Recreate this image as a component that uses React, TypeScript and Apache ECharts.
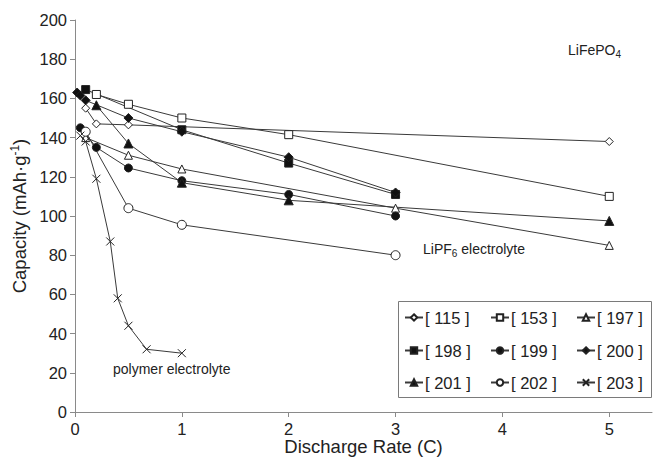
import React, { useEffect, useRef } from "react";
import * as echarts from "echarts";

// Discharge rate (C) vs capacity (mAh/g) for each reference
const s115 = [[0.1, 155], [0.2, 147], [0.5, 146.5], [5, 138]];
const s153 = [[0.2, 162], [0.5, 157], [1, 150], [2, 141.5], [5, 110]];
const s197 = [[0.1, 140], [0.5, 131], [1, 124], [3, 104], [5, 85]];
const s198 = [[0.1, 164.5], [1, 144], [2, 127], [3, 111]];
const s199 = [[0.05, 145], [0.2, 135], [0.5, 124.5], [1, 118], [2, 111], [3, 100]];
const s200 = [[0.02, 163], [0.05, 161.5], [0.1, 159], [0.5, 150], [1, 143], [2, 130], [3, 112]];
const s201 = [[0.2, 156.5], [0.5, 137], [1, 117], [2, 108], [5, 97.5]];
const s202 = [[0.1, 143], [0.5, 104], [1, 95.5], [3, 80]];
const s203 = [[0.05, 141], [0.1, 138], [0.2, 119], [0.33, 87], [0.4, 58], [0.5, 44], [0.67, 32], [1, 30]];

const names = ["[ 115 ]", "[ 153 ]", "[ 197 ]", "[ 198 ]", "[ 199 ]", "[ 200 ]", "[ 201 ]", "[ 202 ]", "[ 203 ]"];
const xTicks = [0, 1, 2, 3, 4, 5];

const FONT = "'Liberation Sans', Arial, sans-serif";
const INK = "#222";
const LINE = "#3a3a3a";
const AXIS = "#8a8a8a";
const CROSS = "path://M0,0L10,10M10,0L0,10";

type Spec = { name: string; data: number[][]; symbol: string; size: number; filled: boolean };

const specs: Spec[] = [
  { name: names[0], data: s115, symbol: "diamond", size: 8, filled: false },
  { name: names[1], data: s153, symbol: "rect", size: 8, filled: false },
  { name: names[2], data: s197, symbol: "triangle", size: 8, filled: false },
  { name: names[3], data: s198, symbol: "rect", size: 8, filled: true },
  { name: names[4], data: s199, symbol: "circle", size: 8, filled: true },
  { name: names[5], data: s200, symbol: "diamond", size: 9, filled: true },
  { name: names[6], data: s201, symbol: "triangle", size: 9, filled: true },
  { name: names[7], data: s202, symbol: "circle", size: 9, filled: false },
  { name: names[8], data: s203, symbol: CROSS, size: 8, filled: false },
];

const colLeft = [404, 490, 576];
const rowTop = [309, 342, 374];

export default function App() {
  const ref = useRef<HTMLDivElement>(null);
  useEffect(() => {
    if (!ref.current) return;
    const chart = echarts.init(ref.current, undefined, { renderer: "svg" });
    const legends = names.map((n, i) => ({
      orient: "horizontal",
      itemWidth: 18,
      itemHeight: 8,
      padding: 0,
      left: colLeft[i % 3],
      top: rowTop[Math.floor(i / 3)],
      data: [n],
      textStyle: { fontSize: 16.5, color: INK, fontFamily: FONT, padding: [0, 0, 0, -3] },
    }));
    const option: any = {
      animation: false,
      backgroundColor: "#fff",
      grid: { left: 75, right: 7, top: 20, bottom: 48, containLabel: false, outerBoundsMode: "none" },
      xAxis: {
        type: "value",
        min: 0,
        max: 5.4,
        interval: 1,
        name: "Discharge Rate (C)",
        nameLocation: "middle",
        nameGap: 25,
        nameMoveOverlap: false,
        nameTextStyle: { fontSize: 18.5, color: INK, fontFamily: FONT },
        axisLine: { lineStyle: { color: AXIS, width: 1 } },
        axisTick: { show: true, length: 5, lineStyle: { color: AXIS }, customValues: xTicks },
        axisLabel: { fontSize: 16.5, color: INK, fontFamily: FONT, margin: 8, customValues: xTicks },
        splitLine: { show: false },
      },
      yAxis: {
        type: "value",
        min: 0,
        max: 200,
        interval: 20,
        name: "Capacity (mAh·g{sup|-1})",
        nameLocation: "middle",
        nameGap: 45,
        nameRotate: 90,
        nameTextStyle: {
          fontSize: 18.5,
          color: INK,
          fontFamily: FONT,
          rich: { sup: { fontSize: 12, color: INK, fontFamily: FONT, padding: [0, 0, 9, 0] } },
        },
        axisLine: { show: true, lineStyle: { color: AXIS, width: 1 } },
        axisTick: { show: true, length: 5, lineStyle: { color: AXIS } },
        axisLabel: { fontSize: 16.5, color: INK, fontFamily: FONT, margin: 8 },
        splitLine: { show: false },
      },
      legend: legends,
      graphic: [
        {
          type: "rect",
          left: 398,
          top: 301,
          shape: { width: 253, height: 96 },
          style: { fill: "#fff", stroke: "#7a7a7a", lineWidth: 1 },
          z: 0,
        },
        {
          type: "text",
          left: 568,
          top: 43,
          style: {
            text: "LiFePO{sub|4}",
            fontSize: 14,
            fill: INK,
            fontFamily: FONT,
            rich: { sub: { fontSize: 10, fill: INK, fontFamily: FONT, padding: [8, 0, 0, 0] } },
          },
        },
        {
          type: "text",
          left: 423,
          top: 242,
          style: {
            text: "LiPF{sub|6} electrolyte",
            fontSize: 14,
            fill: INK,
            fontFamily: FONT,
            rich: { sub: { fontSize: 10, fill: INK, fontFamily: FONT, padding: [8, 0, 0, 0] } },
          },
        },
        {
          type: "text",
          left: 113,
          top: 362,
          style: { text: "polymer electrolyte", fontSize: 14, fill: INK, fontFamily: FONT },
        },
      ],
      series: specs.map((s) => ({
        name: s.name,
        type: "line",
        data: s.data,
        symbol: s.symbol,
        symbolSize: s.size,
        showAllSymbol: true,
        lineStyle: { color: LINE, width: 1 },
        itemStyle: {
          color: s.filled ? "#111" : "#fff",
          borderColor: "#222",
          borderWidth: 1,
        },
        z: 3,
      })),
    };
    chart.setOption(option);
    return () => chart.dispose();
  }, []);
  return (
    <div
      ref={ref}
      style={{ position: "fixed", left: 0, top: 0, width: 659, height: 460, background: "#fff" }}
    />
  );
}
